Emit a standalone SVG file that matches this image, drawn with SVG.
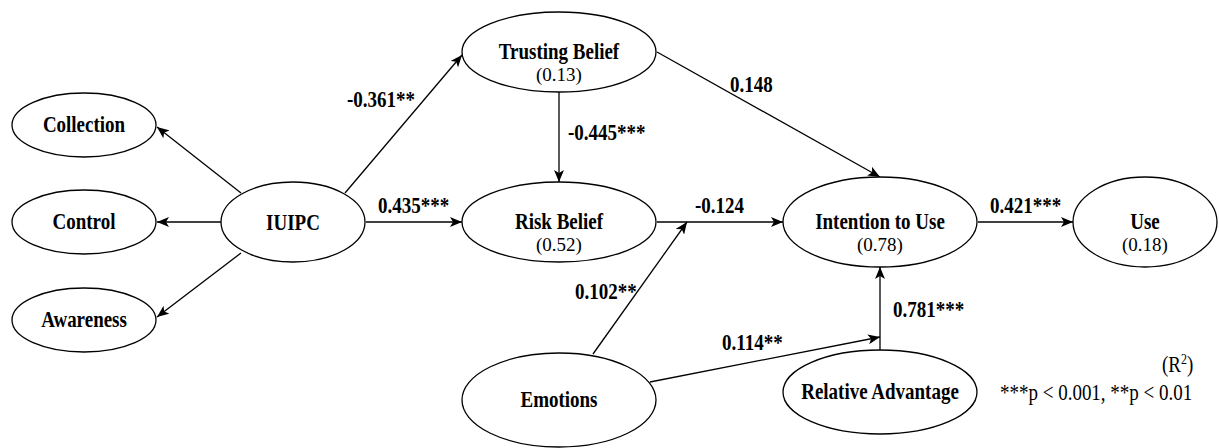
<svg xmlns="http://www.w3.org/2000/svg" width="1219" height="448" viewBox="0 0 1219 448">
<defs>
<marker id="arr" viewBox="0 0 12 10" markerWidth="12" markerHeight="10" refX="12" refY="5" orient="auto" markerUnits="userSpaceOnUse">
<path d="M0,0 L12,5 L0,10 L3,5 Z" fill="#000"/>
</marker>
</defs>
<style>
.n ellipse{fill:#fff;stroke:#000;stroke-width:1.3}
text{font-family:"Liberation Serif","Times New Roman",serif;font-size:19px;fill:#000}
.b{font-weight:bold}
.m{text-anchor:middle}
.c line{stroke:#000;stroke-width:1.3;marker-end:url(#arr)}
</style>
<rect width="1219" height="448" fill="#fff"/>
<g id="connectors" class="c">
<line x1="241" y1="193" x2="157" y2="127"/>
<line x1="221" y1="222" x2="157" y2="222"/>
<line x1="241" y1="253" x2="157" y2="317"/>
<line x1="345" y1="193" x2="462" y2="55"/>
<line x1="366" y1="222" x2="462" y2="222"/>
<line x1="559" y1="92" x2="559" y2="182"/>
<line x1="657" y1="52" x2="880" y2="177"/>
<line x1="657" y1="222" x2="783" y2="222"/>
<line x1="593" y1="354" x2="687" y2="222"/>
<line x1="650" y1="382" x2="880" y2="337"/>
<line x1="880" y1="350" x2="880" y2="267"/>
<line x1="978" y1="222" x2="1073" y2="222"/>
</g>
<g id="labels" class="b">
<text transform="translate(347,107) scale(1,1.17)">-0.361**</text>
<text transform="translate(378,213) scale(1,1.17)">0.435***</text>
<text transform="translate(568,140) scale(1,1.17)">-0.445***</text>
<text transform="translate(730,92) scale(1,1.17)">0.148</text>
<text transform="translate(695,213) scale(1,1.17)">-0.124</text>
<text transform="translate(575,299) scale(1,1.17)">0.102**</text>
<text transform="translate(722,350) scale(1,1.17)">0.114**</text>
<text transform="translate(893,317) scale(1,1.17)">0.781***</text>
<text transform="translate(990,213) scale(1,1.17)">0.421***</text>
</g>
<g id="collection" class="n"><ellipse cx="84" cy="125" rx="72" ry="32"/><text class="b m" transform="translate(84,132) scale(1,1.17)">Collection</text></g>
<g id="control" class="n"><ellipse cx="84" cy="222" rx="72" ry="32"/><text class="b m" transform="translate(84,229) scale(1,1.17)">Control</text></g>
<g id="awareness" class="n"><ellipse cx="84" cy="320" rx="72" ry="32"/><text class="b m" transform="translate(84,327) scale(1,1.17)">Awareness</text></g>
<g id="iuipc" class="n"><ellipse cx="293" cy="222" rx="72" ry="40"/><text class="b m" transform="translate(293,230) scale(1,1.17)">IUIPC</text></g>
<g id="trusting" class="n"><ellipse cx="559" cy="52" rx="97" ry="40"/><text class="b m" transform="translate(559,58.5) scale(1,1.17)">Trusting Belief</text><text class="m" x="559" y="81">(0.13)</text></g>
<g id="risk" class="n"><ellipse cx="559" cy="222" rx="97" ry="40"/><text class="b m" transform="translate(559,228.5) scale(1,1.17)">Risk Belief</text><text class="m" x="559" y="251">(0.52)</text></g>
<g id="intention" class="n"><ellipse cx="880" cy="222" rx="97" ry="45"/><text class="b m" transform="translate(880,228.5) scale(1,1.17)">Intention to Use</text><text class="m" x="880" y="251">(0.78)</text></g>
<g id="use" class="n"><ellipse cx="1145" cy="222" rx="72" ry="45"/><text class="b m" transform="translate(1145,228.5) scale(1,1.17)">Use</text><text class="m" x="1145" y="251">(0.18)</text></g>
<g id="emotions" class="n"><ellipse cx="559" cy="400" rx="97" ry="47"/><text class="b m" transform="translate(559,407) scale(1,1.17)">Emotions</text></g>
<g id="relative" class="n"><ellipse cx="880" cy="392" rx="97" ry="42"/><text class="b m" transform="translate(880,399) scale(1,1.17)">Relative Advantage</text></g>
<g id="legend">
<text transform="translate(1162,372) scale(1,1.17)">(R<tspan font-size="12" dy="-7">2</tspan><tspan dy="7">)</tspan></text>
<text transform="translate(1000,400) scale(1,1.17)">***p &lt; 0.001, **p &lt; 0.01</text>
</g>
</svg>
